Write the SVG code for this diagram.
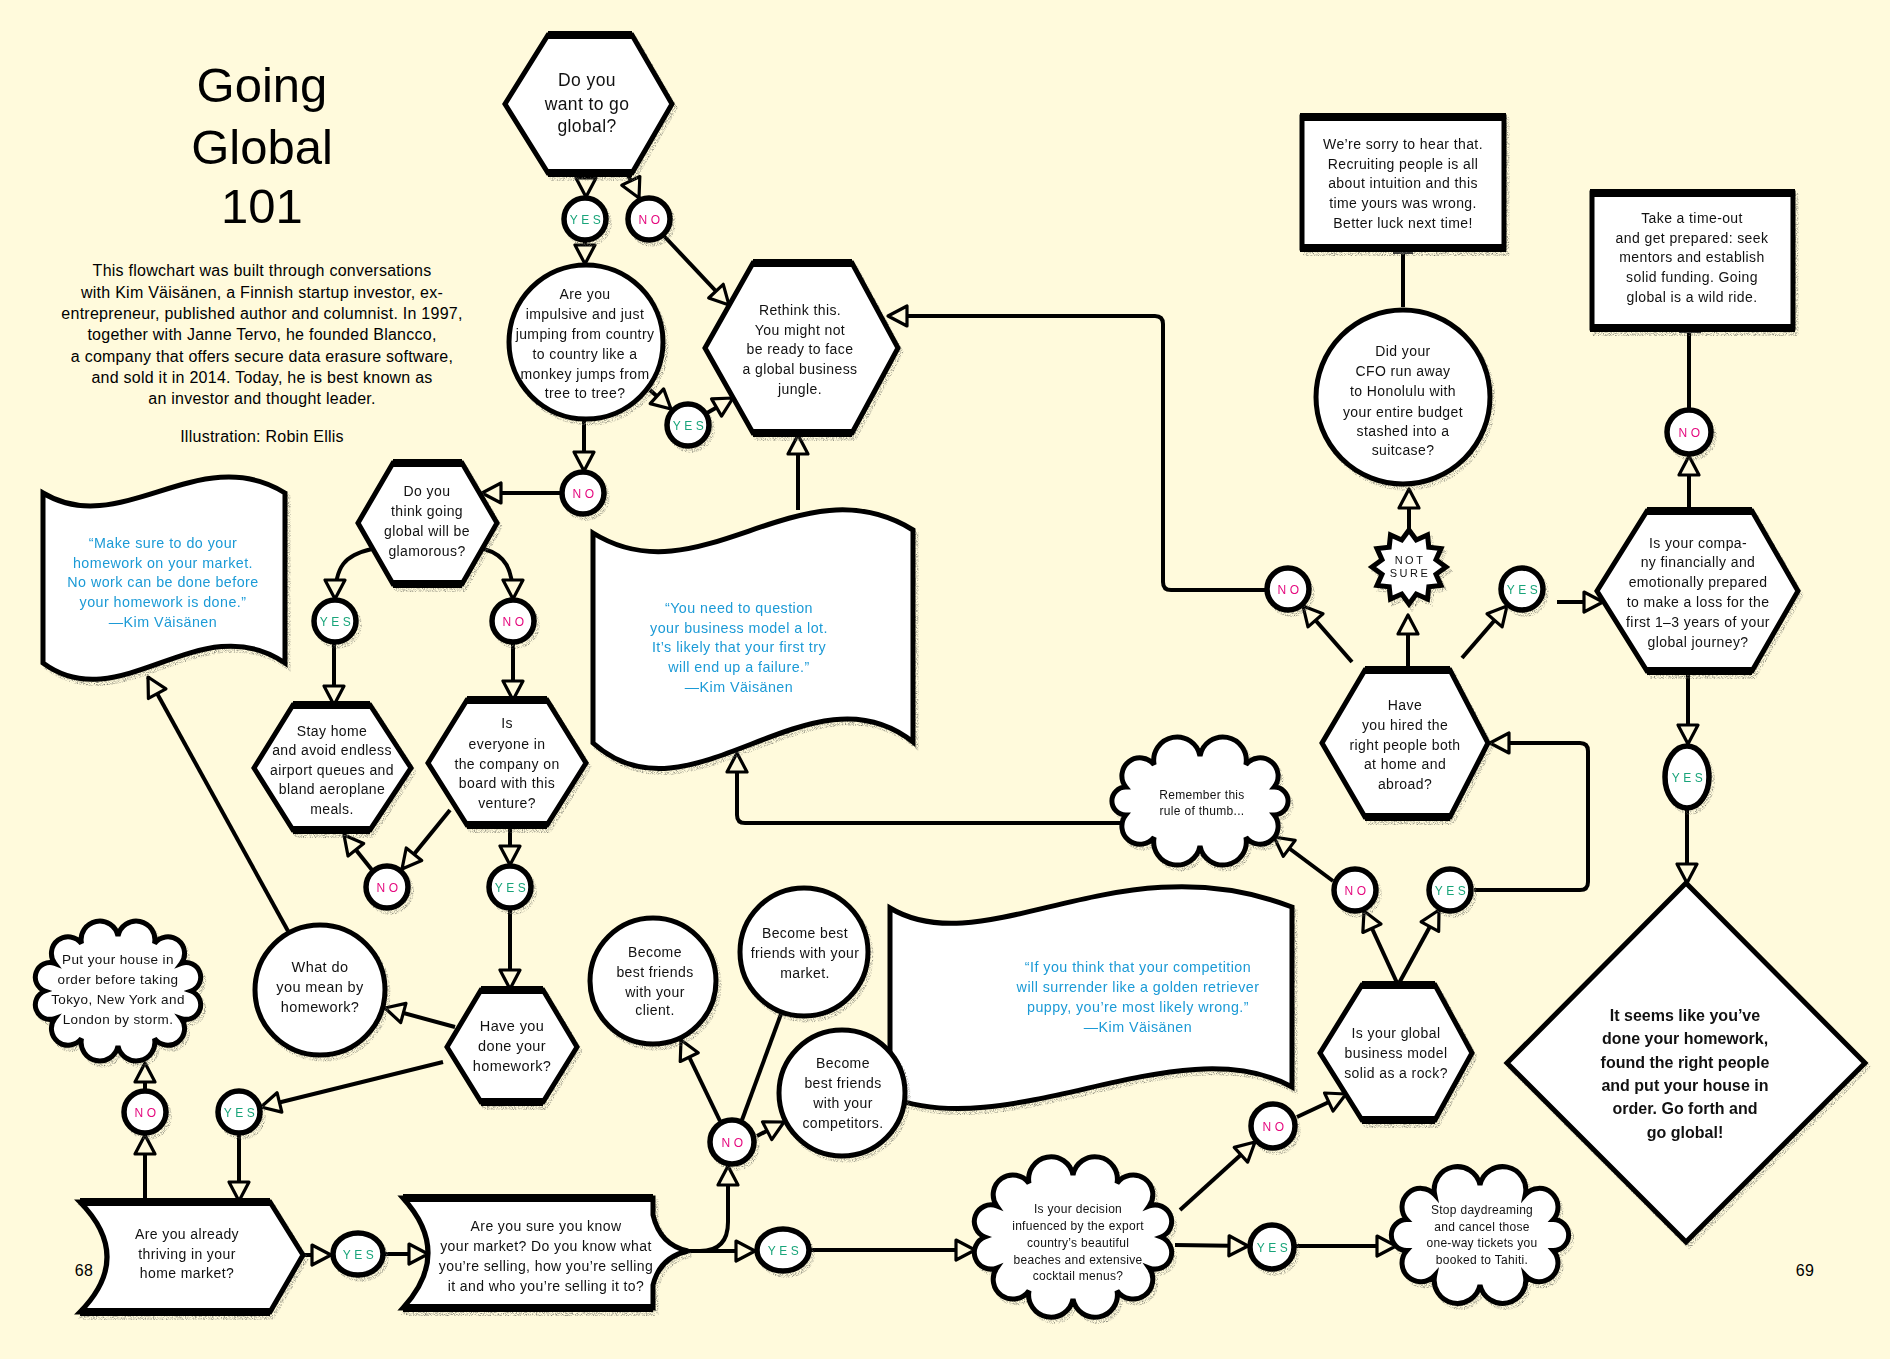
<svg xmlns="http://www.w3.org/2000/svg" width="1890" height="1359" viewBox="0 0 1890 1359">
<defs>
<style>
.shape{fill:#fff;stroke:#000;stroke-width:5;stroke-linejoin:miter}
.thick{fill:none;stroke:#000;stroke-width:8}
.lab circle,.lab ellipse{fill:#fff;stroke:#000;stroke-width:5.5}
.t{font-family:"Liberation Sans",Arial,sans-serif;font-size:14px;letter-spacing:.4px;text-anchor:middle;fill:#111}
.q{font-family:"Liberation Sans",Arial,sans-serif;font-size:14.3px;letter-spacing:.45px;text-anchor:middle;fill:#1b9ad6}
.s{font-size:12px;letter-spacing:.3px}
.yes,.no{font-family:"Liberation Sans",Arial,sans-serif;font-size:12px;letter-spacing:3.5px;text-anchor:middle}
.yes{fill:#18a47a}
.no{fill:#e5097f}
.c{fill:none;stroke:#000;stroke-width:4;stroke-linejoin:round}
.a{marker-end:url(#ah)}
.title{font-family:"Liberation Sans",Arial,sans-serif;font-size:49px;text-anchor:middle;fill:#000}
.p{font-family:"Liberation Sans",Arial,sans-serif;font-size:16px;letter-spacing:.25px;text-anchor:middle;fill:#000}
</style>
<marker id="ah" viewBox="0 0 26 26" refX="22" refY="13" markerWidth="26" markerHeight="26" markerUnits="userSpaceOnUse" orient="auto">
<path d="M3,3 L22,13 L3,23 Z" fill="#fffadc" stroke="#000" stroke-width="3.2" stroke-linejoin="round"/>
</marker>
<filter id="sh" x="-15%" y="-15%" width="135%" height="140%" color-interpolation-filters="sRGB">
<feOffset in="SourceAlpha" dx="3" dy="4" result="off"/>
<feTurbulence type="fractalNoise" baseFrequency="1.1" numOctaves="2" seed="3" result="noise"/>
<feColorMatrix in="noise" type="matrix" values="0 0 0 0 0.42  0 0 0 0 0.42  0 0 0 0 0.38  1.9 0 0 0 -0.78" result="spk"/>
<feComposite in="spk" in2="off" operator="in" result="shadow"/>
<feMerge><feMergeNode in="shadow"/><feMergeNode in="SourceGraphic"/></feMerge>
</filter>
</defs>
<rect width="1890" height="1359" fill="#fffadc"/>

<g id="title">
<text class="title" x="262" y="102">Going</text>
<text class="title" x="262" y="164">Global</text>
<text class="title" x="262" y="223">101</text>
<text class="p" x="262" y="276">This flowchart was built through conversations</text>
<text class="p" x="262" y="297.5">with Kim Väisänen, a Finnish startup investor, ex-</text>
<text class="p" x="262" y="319">entrepreneur, published author and columnist. In 1997,</text>
<text class="p" x="262" y="340">together with Janne Tervo, he founded Blancco,</text>
<text class="p" x="262" y="361.5">a company that offers secure data erasure software,</text>
<text class="p" x="262" y="383">and sold it in 2014. Today, he is best known as</text>
<text class="p" x="262" y="404">an investor and thought leader.</text>
<text class="p" x="262" y="442">Illustration: Robin Ellis</text>
<text class="p" x="84" y="1276">68</text>
<text class="p" x="1805" y="1276">69</text>
</g>

<g id="connectors">
<path class="c a" d="M586,174 L586,197"/>
<path class="c a" d="M628,175 L639,198"/>
<path class="c a" d="M664,236 L729,305"/>
<path class="c a" d="M585,242 L585,264"/>
<path class="c a" d="M650,390 L671,409"/>
<path class="c a" d="M707,413 L733,398"/>
<path class="c a" d="M584,421 L584,471"/>
<path class="c a" d="M561,493 L482,493"/>
<path class="c a" d="M372,549 C345,555 335,566 335,599"/>
<path class="c a" d="M484,549 C505,555 513,568 513,599"/>
<path class="c a" d="M334,644 L334,705"/>
<path class="c a" d="M513,644 L513,700"/>
<path class="c a" d="M450,810 L402,869"/>
<path class="c a" d="M372,870 L344,835"/>
<path class="c a" d="M510,825 L510,865"/>
<path class="c a" d="M510,910 L510,989"/>
<path class="c a" d="M455,1027 L385,1008"/>
<path class="c a" d="M443,1062 L261,1107"/>
<path class="c a" d="M288,931 L148,677"/>
<path class="c a" d="M239,1135 L239,1201"/>
<path class="c a" d="M145,1202 L145,1135"/>
<path class="c a" d="M145,1089 L145,1063"/>
<path class="c a" d="M303,1255 L331,1255"/>
<path class="c a" d="M385,1254 L428,1254"/>
<path class="c a" d="M688,1251 L755,1251"/>
<path class="c a" d="M700,1251 Q728,1251 728,1222 L728,1166"/>
<path class="c a" d="M720,1121 L681,1040"/>
<path class="c" d="M742,1120 L781,1014"/>
<path class="c a" d="M757,1136 L784,1122"/>
<path class="c a" d="M811,1250 L975,1250"/>
<path class="c a" d="M1180,1210 L1255,1142"/>
<path class="c a" d="M1175,1245 L1248,1246"/>
<path class="c a" d="M1296,1246 L1396,1246"/>
<path class="c a" d="M1297,1117 L1346,1094"/>
<path class="c a" d="M1398,985 L1364,911"/>
<path class="c a" d="M1398,985 L1439,910"/>
<path class="c a" d="M1333,881 L1274,837"/>
<path class="c a" d="M1474,890 H1580 Q1588,890 1588,882 V751 Q1588,743 1580,743 H1490"/>
<path class="c a" d="M1352,662 L1303,606"/>
<path class="c a" d="M1266,590 H1171 Q1163,590 1163,582 V324 Q1163,316 1155,316 H888"/>
<path class="c a" d="M1408,668 L1408,615"/>
<path class="c a" d="M1409,530 L1409,489"/>
<path class="c" d="M1403,307 L1403,250"/>
<rect x="1393" y="249" width="20" height="5" fill="#333"/>
<path class="c a" d="M1462,658 L1507,606"/>
<path class="c a" d="M1557,602 L1603,602"/>
<path class="c a" d="M1689,511 L1689,456"/>
<path class="c" d="M1689,408 L1689,330"/>
<rect x="1679" y="328" width="22" height="5" fill="#333"/>
<path class="c a" d="M1688,671 L1688,744"/>
<path class="c a" d="M1687,810 L1687,883"/>
<path class="c a" d="M798,510 L798,435"/>
<path class="c a" d="M1122,823 H745 Q737,823 737,815 V753"/>
</g>

<g id="n-want-global" filter="url(#sh)">
<polygon class="shape" points="548,35 632,35 672,104 632,173 548,173 505,104"/>
<path class="thick" d="M548,35H632M548,173H632"/>
<text class="t" style="font-size:17.5px" x="587" y="86">Do you</text>
<text class="t" style="font-size:17.5px" x="587" y="110">want to go</text>
<text class="t" style="font-size:17.5px" x="587" y="132">global?</text>
</g>

<g id="n-impulsive" filter="url(#sh)">
<circle class="shape" cx="586" cy="342" r="77" stroke-width="6"/>
<text class="t" x="585" y="299">Are you</text>
<text class="t" x="585" y="319">impulsive and just</text>
<text class="t" x="585" y="339">jumping from country</text>
<text class="t" x="585" y="359">to country like a</text>
<text class="t" x="585" y="379">monkey jumps from</text>
<text class="t" x="585" y="398">tree to tree?</text>
</g>

<g id="n-rethink" filter="url(#sh)">
<polygon class="shape" points="753,263 852,263 898,348 852,433 753,433 705,348"/>
<path class="thick" d="M753,263H852M753,433H852"/>
<text class="t" x="800" y="315">Rethink this.</text>
<text class="t" x="800" y="335">You might not</text>
<text class="t" x="800" y="354">be ready to face</text>
<text class="t" x="800" y="374">a global business</text>
<text class="t" x="800" y="394">jungle.</text>
</g>

<g id="n-glamorous" filter="url(#sh)">
<polygon class="shape" points="393,463 462,463 497,523 462,584 393,584 358,523"/>
<path class="thick" d="M393,463H462M393,584H462"/>
<text class="t" x="427" y="496">Do you</text>
<text class="t" x="427" y="516">think going</text>
<text class="t" x="427" y="536">global will be</text>
<text class="t" x="427" y="556">glamorous?</text>
</g>

<g id="n-stay-home" filter="url(#sh)">
<polygon class="shape" points="293,705 370,705 411,768 370,830 293,830 254,768"/>
<path class="thick" d="M293,705H370M293,830H370"/>
<text class="t" x="332" y="736">Stay home</text>
<text class="t" x="332" y="755">and avoid endless</text>
<text class="t" x="332" y="775">airport queues and</text>
<text class="t" x="332" y="794">bland aeroplane</text>
<text class="t" x="332" y="814">meals.</text>
</g>

<g id="n-everyone" filter="url(#sh)">
<polygon class="shape" points="467,700 547,700 586,763 547,825 467,825 428,763"/>
<path class="thick" d="M467,700H547M467,825H547"/>
<text class="t" x="507" y="728">Is</text>
<text class="t" x="507" y="749">everyone in</text>
<text class="t" x="507" y="769">the company on</text>
<text class="t" x="507" y="788">board with this</text>
<text class="t" x="507" y="808">venture?</text>
</g>

<g id="n-done-homework" filter="url(#sh)">
<polygon class="shape" points="481,990 543,990 577,1047 543,1102 481,1102 447,1047"/>
<path class="thick" d="M481,990H543M481,1102H543"/>
<text class="t" style="font-size:14.5px" x="512" y="1031">Have you</text>
<text class="t" style="font-size:14.5px" x="512" y="1051">done your</text>
<text class="t" style="font-size:14.5px" x="512" y="1071">homework?</text>
</g>

<g id="n-what-homework" filter="url(#sh)">
<circle class="shape" cx="320" cy="990" r="65" stroke-width="6"/>
<text class="t" style="font-size:14.5px" x="320" y="972">What do</text>
<text class="t" style="font-size:14.5px" x="320" y="992">you mean by</text>
<text class="t" style="font-size:14.5px" x="320" y="1012">homework?</text>
</g>

<g id="n-quote-homework" filter="url(#sh)">
<path class="shape" stroke-width="6" d="M43,493 C120,540 200,440 285,493 L285,663 C200,605 120,720 43,663 Z"/>
<text class="q" x="163" y="548">“Make sure to do your</text>
<text class="q" x="163" y="568">homework on your market.</text>
<text class="q" x="163" y="587">No work can be done before</text>
<text class="q" x="163" y="607">your homework is done.”</text>
<text class="q" x="163" y="627">—Kim Väisänen</text>
</g>

<g id="n-quote-business" filter="url(#sh)">
<path class="shape" stroke-width="6" d="M593,533 C700,600 800,460 913,530 L913,742 C810,660 690,830 593,743 Z"/>
<text class="q" x="739" y="613">“You need to question</text>
<text class="q" x="739" y="633">your business model a lot.</text>
<text class="q" x="739" y="652">It’s likely that your first try</text>
<text class="q" x="739" y="672">will end up a failure.”</text>
<text class="q" x="739" y="692">—Kim Väisänen</text>
</g>

<g id="n-put-house" filter="url(#sh)">
<path class="shape" stroke-width="6" d="M118,936 A1,1 0 0 1 154.5,943.4 A1,1 0 0 1 181.2,963.5 A1,1 0 0 1 191,991 A1,1 0 0 1 181.2,1018.5 A1,1 0 0 1 154.5,1038.6 A1,1 0 0 1 118,1046 A1,1 0 0 1 81.5,1038.6 A1,1 0 0 1 54.8,1018.5 A1,1 0 0 1 45,991 A1,1 0 0 1 54.8,963.5 A1,1 0 0 1 81.5,943.4 A1,1 0 0 1 118,936 Z"/>
<text class="t" style="font-size:13.5px" x="118" y="964">Put your house in</text>
<text class="t" style="font-size:13.5px" x="118" y="984">order before taking</text>
<text class="t" style="font-size:13.5px" x="118" y="1004">Tokyo, New York and</text>
<text class="t" style="font-size:13.5px" x="118" y="1024">London by storm.</text>
</g>

<g id="n-already-thriving" filter="url(#sh)">
<path class="shape" d="M80,1202 H270 L303,1255 L270,1312 H80 Q134,1257 80,1202 Z"/>
<path class="thick" d="M80,1202H270M80,1312H270"/>
<text class="t" x="187" y="1239">Are you already</text>
<text class="t" x="187" y="1259">thriving in your</text>
<text class="t" x="187" y="1278">home market?</text>
</g>

<g id="n-know-market" filter="url(#sh)">
<path class="shape" d="M403,1198 H653 V1215 Q660,1245 688,1251 Q660,1257 653,1285 V1308 H403 Q453,1253 403,1198 Z"/>
<path class="thick" d="M403,1198H653M403,1308H653"/>
<text class="t" x="546" y="1231">Are you sure you know</text>
<text class="t" x="546" y="1251">your market? Do you know what</text>
<text class="t" x="546" y="1271">you’re selling, how you’re selling</text>
<text class="t" x="546" y="1291">it and who you’re selling it to?</text>
</g>

<g id="n-client" filter="url(#sh)">
<circle class="shape" cx="653" cy="981" r="63" stroke-width="6"/>
<text class="t" x="655" y="957">Become</text>
<text class="t" x="655" y="977">best friends</text>
<text class="t" x="655" y="997">with your</text>
<text class="t" x="655" y="1015">client.</text>
</g>

<g id="n-market" filter="url(#sh)">
<circle class="shape" cx="804" cy="952" r="64" stroke-width="6"/>
<text class="t" x="805" y="938">Become best</text>
<text class="t" x="805" y="958">friends with your</text>
<text class="t" x="805" y="978">market.</text>
</g>

<g id="n-quote-competition" filter="url(#sh)">
<path class="shape" stroke-width="6" d="M890,908 C985,965 1120,840 1292,907 L1292,1087 C1180,1025 1010,1145 890,1097 Z"/>
<text class="q" x="1138" y="972">“If you think that your competition</text>
<text class="q" x="1138" y="992">will surrender like a golden retriever</text>
<text class="q" x="1138" y="1012">puppy, you’re most likely wrong.”</text>
<text class="q" x="1138" y="1032">—Kim Väisänen</text>
</g>

<g id="n-competitors" filter="url(#sh)">
<circle class="shape" cx="842" cy="1093" r="63" stroke-width="6"/>
<text class="t" x="843" y="1068">Become</text>
<text class="t" x="843" y="1088">best friends</text>
<text class="t" x="843" y="1108">with your</text>
<text class="t" x="843" y="1128">competitors.</text>
</g>

<g id="n-decision" filter="url(#sh)">
<path class="shape" stroke-width="6" d="M1073,1175 A1,1 0 0 1 1117,1183.3 A1,1 0 0 1 1149.2,1206 A1,1 0 0 1 1161,1237 A1,1 0 0 1 1149.2,1268 A1,1 0 0 1 1117,1290.7 A1,1 0 0 1 1073,1299 A1,1 0 0 1 1029,1290.7 A1,1 0 0 1 996.8,1268 A1,1 0 0 1 985,1237 A1,1 0 0 1 996.8,1206 A1,1 0 0 1 1029,1183.3 A1,1 0 0 1 1073,1175 Z"/>
<text class="t s" x="1078" y="1213">Is your decision</text>
<text class="t s" x="1078" y="1230">infuenced by the export</text>
<text class="t s" x="1078" y="1247">country’s beautiful</text>
<text class="t s" x="1078" y="1264">beaches and extensive</text>
<text class="t s" x="1078" y="1280">cocktail menus?</text>
</g>

<g id="n-stop" filter="url(#sh)">
<path class="shape" stroke-width="6" d="M1480,1185 A1,1 0 0 1 1525.3,1194.6 A1,1 0 0 1 1553.2,1219.6 A1,1 0 0 1 1553.2,1250.5 A1,1 0 0 1 1525.3,1275.5 A1,1 0 0 1 1480,1285 A1,1 0 0 1 1434.7,1275.5 A1,1 0 0 1 1406.8,1250.5 A1,1 0 0 1 1406.8,1219.6 A1,1 0 0 1 1434.7,1194.6 A1,1 0 0 1 1480,1185 Z"/>
<text class="t s" x="1482" y="1214">Stop daydreaming</text>
<text class="t s" x="1482" y="1231">and cancel those</text>
<text class="t s" x="1482" y="1247">one-way tickets you</text>
<text class="t s" x="1482" y="1264">booked to Tahiti.</text>
</g>

<g id="n-global-model" filter="url(#sh)">
<polygon class="shape" points="1362,985 1435,985 1472,1053 1435,1120 1362,1120 1320,1053"/>
<path class="thick" d="M1362,985H1435M1362,1120H1435"/>
<text class="t" x="1396" y="1038">Is your global</text>
<text class="t" x="1396" y="1058">business model</text>
<text class="t" x="1396" y="1078">solid as a rock?</text>
</g>

<g id="n-remember" filter="url(#sh)">
<path class="shape" stroke-width="6" d="M1200,756 A1,1 0 0 1 1245.9,764.6 A1,1 0 0 1 1274.2,787.1 A1,1 0 0 1 1274.2,814.9 A1,1 0 0 1 1245.9,837.4 A1,1 0 0 1 1200,846 A1,1 0 0 1 1154.1,837.4 A1,1 0 0 1 1125.8,814.9 A1,1 0 0 1 1125.8,787.1 A1,1 0 0 1 1154.1,764.6 A1,1 0 0 1 1200,756 Z"/>
<text class="t s" x="1202" y="799">Remember this</text>
<text class="t s" x="1202" y="815">rule of thumb...</text>
</g>

<g id="n-hired" filter="url(#sh)">
<polygon class="shape" points="1365,670 1450,670 1488,743 1450,817 1365,817 1322,743"/>
<path class="thick" d="M1365,670H1450M1365,817H1450"/>
<text class="t" x="1405" y="710">Have</text>
<text class="t" x="1405" y="730">you hired the</text>
<text class="t" x="1405" y="750">right people both</text>
<text class="t" x="1405" y="769">at home and</text>
<text class="t" x="1405" y="789">abroad?</text>
</g>

<g id="n-not-sure" filter="url(#sh)">
<polygon class="shape" stroke-width="4" transform="translate(1409,567)" points="0,-37 7.25,-27 18.5,-32 19.8,-19.8 32,-18.5 27,-7.25 37,0 27,7.25 32,18.5 19.8,19.8 18.5,32 7.25,27 0,37 -7.25,27 -18.5,32 -19.8,19.8 -32,18.5 -27,7.25 -37,0 -27,-7.25 -32,-18.5 -19.8,-19.8 -18.5,-32 -7.25,-27"/>
<text class="t" style="font-size:11px;letter-spacing:2.5px" x="1410" y="564">NOT</text>
<text class="t" style="font-size:11px;letter-spacing:2.5px" x="1410" y="577">SURE</text>
</g>

<g id="n-cfo" filter="url(#sh)">
<circle class="shape" cx="1403" cy="397" r="87" stroke-width="6"/>
<text class="t" x="1403" y="356">Did your</text>
<text class="t" x="1403" y="376">CFO run away</text>
<text class="t" x="1403" y="396">to Honolulu with</text>
<text class="t" x="1403" y="417">your entire budget</text>
<text class="t" x="1403" y="436">stashed into a</text>
<text class="t" x="1403" y="455">suitcase?</text>
</g>

<g id="n-sorry" filter="url(#sh)">
<rect class="shape" x="1302" y="117" width="202" height="131" stroke-width="4"/>
<path class="thick" d="M1300,117H1506M1300,248H1506"/>
<text class="t" x="1403" y="149">We’re sorry to hear that.</text>
<text class="t" x="1403" y="169">Recruiting people is all</text>
<text class="t" x="1403" y="188">about intuition and this</text>
<text class="t" x="1403" y="208">time yours was wrong.</text>
<text class="t" x="1403" y="228">Better luck next time!</text>
</g>

<g id="n-company-prepared" filter="url(#sh)">
<polygon class="shape" points="1647,511 1752,511 1798,591 1752,671 1647,671 1597,591"/>
<path class="thick" d="M1647,511H1752M1647,671H1752"/>
<text class="t" x="1698" y="548">Is your compa-</text>
<text class="t" x="1698" y="567">ny financially and</text>
<text class="t" x="1698" y="587">emotionally prepared</text>
<text class="t" x="1698" y="607">to make a loss for the</text>
<text class="t" x="1698" y="627">first 1–3 years of your</text>
<text class="t" x="1698" y="647">global journey?</text>
</g>

<g id="n-time-out" filter="url(#sh)">
<rect class="shape" x="1592" y="193" width="201" height="135" stroke-width="4"/>
<path class="thick" d="M1590,193H1795M1590,328H1795"/>
<text class="t" x="1692" y="223">Take a time-out</text>
<text class="t" x="1692" y="243">and get prepared: seek</text>
<text class="t" x="1692" y="262">mentors and establish</text>
<text class="t" x="1692" y="282">solid funding. Going</text>
<text class="t" x="1692" y="302">global is a wild ride.</text>
</g>

<g id="n-go-global" filter="url(#sh)">
<polygon class="shape" stroke-width="6" points="1686,883 1865,1063 1686,1242 1507,1063"/>
<text class="t" style="font-size:16px;font-weight:bold;letter-spacing:0" x="1685" y="1021">It seems like you’ve</text>
<text class="t" style="font-size:16px;font-weight:bold;letter-spacing:0" x="1685" y="1044">done your homework,</text>
<text class="t" style="font-size:16px;font-weight:bold;letter-spacing:0" x="1685" y="1068">found the right people</text>
<text class="t" style="font-size:16px;font-weight:bold;letter-spacing:0" x="1685" y="1091">and put your house in</text>
<text class="t" style="font-size:16px;font-weight:bold;letter-spacing:0" x="1685" y="1114">order. Go forth and</text>
<text class="t" style="font-size:16px;font-weight:bold;letter-spacing:0" x="1685" y="1138">go global!</text>
</g>

<g id="labels">
<g id="l-yes1" class="lab" filter="url(#sh)"><circle cx="585" cy="219" r="21"/><text class="yes" x="587" y="223.5">YES</text></g>
<g id="l-no1" class="lab" filter="url(#sh)"><circle cx="649" cy="219" r="21"/><text class="no" x="651" y="223.5">NO</text></g>
<g id="l-yes2" class="lab" filter="url(#sh)"><circle cx="688" cy="425" r="21"/><text class="yes" x="690" y="429.5">YES</text></g>
<g id="l-no3" class="lab" filter="url(#sh)"><circle cx="583" cy="493" r="21"/><text class="no" x="585" y="497.5">NO</text></g>
<g id="l-yes3" class="lab" filter="url(#sh)"><circle cx="335" cy="621" r="21"/><text class="yes" x="337" y="625.5">YES</text></g>
<g id="l-no4" class="lab" filter="url(#sh)"><circle cx="513" cy="621" r="21"/><text class="no" x="515" y="625.5">NO</text></g>
<g id="l-no5" class="lab" filter="url(#sh)"><circle cx="387" cy="887" r="21"/><text class="no" x="389" y="891.5">NO</text></g>
<g id="l-yes4" class="lab" filter="url(#sh)"><circle cx="510" cy="887" r="21"/><text class="yes" x="512" y="891.5">YES</text></g>
<g id="l-yes5" class="lab" filter="url(#sh)"><circle cx="239" cy="1112" r="21"/><text class="yes" x="241" y="1116.5">YES</text></g>
<g id="l-no6" class="lab" filter="url(#sh)"><circle cx="145" cy="1112" r="21"/><text class="no" x="147" y="1116.5">NO</text></g>
<g id="l-yes6" class="lab" filter="url(#sh)"><ellipse cx="358" cy="1254" rx="25" ry="21"/><text class="yes" x="360" y="1258.5">YES</text></g>
<g id="l-yes7" class="lab" filter="url(#sh)"><ellipse cx="783" cy="1250" rx="26" ry="21"/><text class="yes" x="785" y="1254.5">YES</text></g>
<g id="l-no7" class="lab" filter="url(#sh)"><circle cx="732" cy="1142" r="22"/><text class="no" x="734" y="1146.5">NO</text></g>
<g id="l-no8" class="lab" filter="url(#sh)"><circle cx="1273" cy="1126" r="22"/><text class="no" x="1275" y="1130.5">NO</text></g>
<g id="l-yes8" class="lab" filter="url(#sh)"><circle cx="1272" cy="1247" r="22"/><text class="yes" x="1274" y="1251.5">YES</text></g>
<g id="l-no9" class="lab" filter="url(#sh)"><circle cx="1355" cy="890" r="21"/><text class="no" x="1357" y="894.5">NO</text></g>
<g id="l-yes9" class="lab" filter="url(#sh)"><circle cx="1450" cy="890" r="21"/><text class="yes" x="1452" y="894.5">YES</text></g>
<g id="l-no10" class="lab" filter="url(#sh)"><circle cx="1288" cy="589" r="21"/><text class="no" x="1290" y="593.5">NO</text></g>
<g id="l-yes11" class="lab" filter="url(#sh)"><circle cx="1522" cy="589" r="21"/><text class="yes" x="1524" y="593.5">YES</text></g>
<g id="l-no12" class="lab" filter="url(#sh)"><circle cx="1689" cy="432" r="22"/><text class="no" x="1691" y="436.5">NO</text></g>
<g id="l-yes12" class="lab" filter="url(#sh)"><ellipse cx="1687" cy="777" rx="22" ry="31"/><text class="yes" x="1689" y="781.5">YES</text></g>
</g>
</svg>
